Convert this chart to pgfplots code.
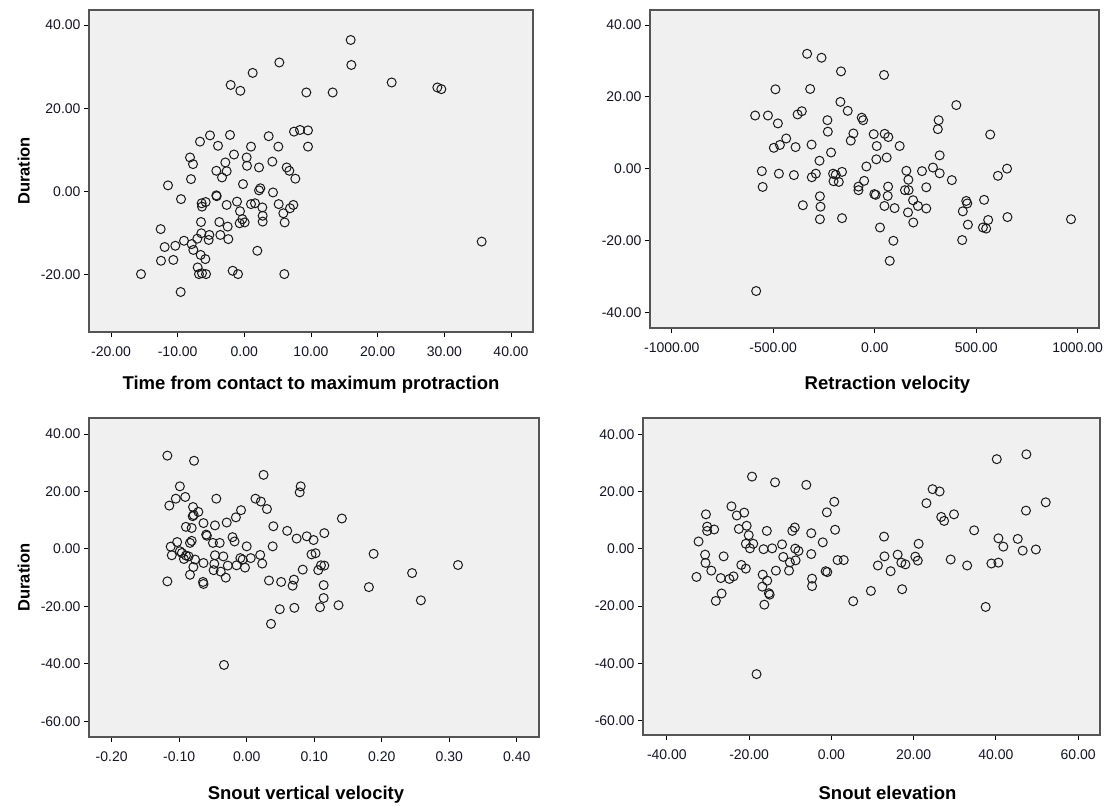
\documentclass[border=0pt]{standalone}
\usepackage{pgfplots}
\pgfplotsset{compat=1.18}
\usepackage{fontspec}
\setmainfont{Liberation Sans}
\definecolor{bgc}{RGB}{240,240,240}
\definecolor{framec}{RGB}{85,85,85}
\definecolor{tickc}{RGB}{20,20,40}
\definecolor{markc}{RGB}{25,25,25}
\pgfplotsset{
  panel/.style={
    scale only axis,
    axis background/.style={fill=bgc},
    axis line style={draw=framec, line width=1.4pt},
    tick align=outside,
    xtick pos=left, ytick pos=left,
    major tick length=5pt,
    every tick/.style={draw=black, line width=0.9pt},
    tick label style={font=\fontsize{14}{16}\selectfont, text=tickc},
    xticklabel style={yshift=-6pt, /pgf/number format/fixed, /pgf/number format/fixed zerofill, /pgf/number format/precision=2, /pgf/number format/1000 sep={}, /pgf/number format/assume math mode=true},
    yticklabel style={/pgf/number format/fixed, /pgf/number format/fixed zerofill, /pgf/number format/precision=2, /pgf/number format/1000 sep={}, /pgf/number format/assume math mode=true},
    scaled ticks=false,
    ylabel style={font=\fontsize{16.5}{19}\selectfont\bfseries},
    xlabel style={font=\fontsize{18.5}{21}\selectfont\bfseries},
    ylabel shift=4pt,
  },
  pts/.style={only marks, mark=o, mark size=4.5pt, mark options={draw=markc, line width=1pt}},
}
\begin{document}
\begin{tikzpicture}
\path[use as bounding box] (0,0) rectangle (1105pt,806pt);
% Panel 1
\begin{axis}[panel, at={(89pt,474pt)}, anchor=south west, width=444pt, height=322pt,
  xmin=-23.3, xmax=43.3, ymin=-33.7, ymax=43.6,
  xtick={-20,-10,0,10,20,30,40}, ytick={-20,0,20,40},
  xlabel shift=13pt,
  xlabel={Time from contact to maximum protraction}, ylabel={Duration}]
\addplot[pts] coordinates {
(15.95,36.4) (16.05,30.4) (5.25,31.0) (1.25,28.5) (-2.05,25.6) (-0.6,24.2) (9.3,23.8) (13.25,23.8)
(22.1,26.2) (28.95,25.0) (29.55,24.6) (35.6,-12.0) (7.45,14.4) (8.35,14.8) (9.55,14.7) (9.55,10.8)
(3.65,13.3) (5.1,10.8) (1.0,10.8) (-2.15,13.6) (-5.15,13.5) (-6.65,12.0) (-3.95,11.0) (-1.55,8.9)
(0.35,8.2) (0.4,6.2) (2.2,5.8) (4.2,7.2) (6.35,5.8) (6.75,5.0) (7.65,3.1) (-2.85,7.0) (-2.65,4.9)
(-4.2,5.0) (-3.35,3.4) (-8.15,8.2) (-7.7,6.6) (-8.0,3.0) (-11.45,1.5) (-9.5,-1.8) (-0.2,1.8)
(2.4,0.8) (2.2,0.3) (4.3,-0.2) (-4.2,-0.9) (-4.15,-1.1) (-6.4,-2.8) (-5.8,-2.5) (-6.35,-3.6)
(-2.65,-3.2) (-1.1,-2.4) (-0.65,-4.7) (1.0,-3.0) (1.6,-2.8) (2.7,-3.8) (2.75,-5.8) (2.75,-7.2)
(5.15,-3.0) (5.85,-5.2) (6.05,-7.4) (6.85,-4.0) (7.35,-3.2) (-6.5,-7.3) (-3.75,-7.3) (-2.5,-8.4)
(-0.3,-6.6) (-0.7,-7.6) (0.05,-7.4) (-12.55,-9.0) (-6.45,-10.0) (-5.25,-10.4) (-5.35,-11.6)
(-3.6,-10.4) (-2.4,-11.4) (-7.05,-11.3) (-9.05,-11.8) (-10.35,-13.0) (-11.95,-13.3) (-7.9,-12.6)
(-7.65,-14.0) (-6.55,-15.2) (-5.85,-16.2) (-12.5,-16.6) (-10.65,-16.4) (-7.0,-18.2) (-6.8,-19.8)
(-6.35,-19.6) (-5.75,-19.8) (-1.75,-19.0) (-0.95,-19.8) (1.95,-14.2) (6.0,-19.8) (-15.5,-19.8)
(-9.55,-24.1)
};
\end{axis}
% Panel 2
\begin{axis}[panel, at={(650pt,478pt)}, anchor=south west, width=449pt, height=318pt,
  xmin=-1107, xmax=1105, ymin=-44.4, ymax=44.2,
  xtick={-1000,-500,0,500,1000}, ytick={-40,-20,0,20,40},
  xlabel shift=17pt, xlabel style={xshift=13pt},
  xlabel={Retraction velocity}]
\addplot[pts] coordinates {
(-333,32.0) (-262,30.9) (-166,27.1) (46,26.1) (-489,22.1) (-318,22.2) (-169,18.6) (-133,16.1)
(402,17.7) (-589,14.8) (-526,14.8) (-477,12.6) (-380,15.1) (-359,16.0) (-233,13.5) (-231,10.3)
(-64,14.2) (-57,13.5) (315,13.5) (311,11.0) (569,9.5) (-105,9.8) (-118,7.8) (-5,9.6) (49,9.7)
(67,8.8) (10,6.3) (123,6.3) (-436,8.4) (-467,6.6) (-497,5.8) (-390,6.0) (-311,6.7) (-215,4.5)
(-272,2.2) (8,2.6) (59,3.1) (320,3.7) (-41,0.6) (-556,-0.7) (-472,-1.4) (-398,-1.8) (-290,-1.4)
(-310,-2.4) (-205,-1.4) (-192,-1.7) (-161,-0.9) (-203,-3.5) (-177,-3.7) (-52,-3.4) (-80,-5.0)
(-80,-6.0) (-2,-7.1) (5,-7.3) (66,-5.0) (64,-7.6) (156,-0.6) (166,-3.1) (149,-6.0) (167,-6.0)
(233,-0.7) (287,0.3) (320,-1.3) (254,-5.2) (380,-3.2) (652,0.0) (607,-2.0) (-552,-5.1) (-270,-7.7)
(-267,-10.6) (-354,-10.2) (-270,-14.1) (-161,-13.8) (48,-10.4) (98,-11.0) (189,-8.8) (213,-10.4)
(254,-11.1) (164,-12.2) (190,-15.0) (26,-16.4) (92,-20.1) (74,-25.7) (434,-11.9) (451,-9.0)
(456,-9.7) (459,-15.6) (431,-19.9) (539,-8.7) (533,-16.4) (549,-16.7) (559,-14.3) (654,-13.5)
(967,-14.1) (-584,-34.1)
};
\end{axis}
% Panel 3
\begin{axis}[panel, at={(89pt,69pt)}, anchor=south west, width=450pt, height=319pt,
  xmin=-0.2336, xmax=0.433, ymin=-65.5, ymax=45.6,
  xtick={-0.2,-0.1,0,0.1,0.2,0.3,0.4}, ytick={-60,-40,-20,0,20,40},
  xlabel shift=18pt, xlabel style={xshift=-8pt},
  xlabel={Snout vertical velocity}, ylabel={Duration}]
\addplot[pts] coordinates {
(-0.1175,32.5) (-0.078,30.7) (0.025,25.8) (-0.099,21.8) (0.080,21.8) (0.0785,19.7) (-0.105,17.5)
(-0.091,18.1) (-0.1146,15.1) (-0.045,17.5) (0.013,17.5) (0.021,16.5) (0.030,13.9) (-0.0795,14.6)
(-0.0716,12.9) (-0.080,11.4) (-0.0785,11.8) (-0.0084,13.5) (-0.016,11.0) (-0.0296,9.2) (-0.064,9.0)
(-0.047,8.2) (-0.090,7.7) (-0.0815,7.3) (0.0395,7.9) (0.060,6.3) (0.141,10.6) (0.115,5.5)
(0.089,4.4) (0.074,3.6) (0.099,3.1) (-0.060,5.0) (-0.059,4.6) (-0.021,4.1) (-0.018,2.6)
(-0.050,2.1) (-0.040,2.1) (-0.103,2.4) (-0.084,2.1) (-0.0815,2.8) (-0.1126,0.8) (0.0,0.9)
(0.0385,0.9) (-0.111,-2.2) (-0.099,-0.8) (-0.096,-1.4) (-0.090,-2.3) (-0.086,-2.6) (-0.093,-3.5)
(-0.0765,-3.7) (-0.079,-6.3) (-0.064,-4.9) (-0.084,-9.0) (-0.047,-2.2) (-0.0346,-2.6)
(-0.048,-5.2) (-0.049,-7.4) (-0.0385,-7.9) (-0.028,-5.8) (-0.031,-10.0) (-0.015,-5.7)
(-0.0094,-3.2) (-0.006,-3.7) (-0.0025,-6.5) (0.006,-3.2) (0.020,-2.1) (0.023,-5.1) (0.096,-1.9)
(0.102,-1.5) (0.083,-7.2) (0.106,-7.4) (0.110,-5.7) (0.115,-5.8) (0.188,-1.7) (0.313,-5.6)
(0.245,-8.4) (-0.1175,-11.3) (-0.0647,-11.5) (-0.064,-12.2) (0.033,-11.0) (0.051,-11.5)
(0.070,-10.7) (0.068,-12.8) (0.114,-12.6) (0.114,-17.1) (0.181,-13.3) (0.258,-17.9) (0.049,-21.0)
(0.0706,-20.5) (0.1086,-20.3) (0.136,-19.6) (0.036,-26.1) (-0.0336,-40.4)
};
\end{axis}
% Panel 4
\begin{axis}[panel, at={(643pt,71pt)}, anchor=south west, width=457pt, height=317pt,
  xmin=-45.8, xmax=65.3, ymin=-65.1, ymax=45.8,
  xtick={-40,-20,0,20,40,60}, ytick={-60,-40,-20,0,20,40},
  xlabel shift=20pt, xlabel style={xshift=16pt},
  xlabel={Snout elevation}]
\addplot[pts] coordinates {
(47.4,33.1) (40.2,31.4) (-19.3,25.3) (-13.7,23.3) (-6.1,22.4) (24.6,20.9) (26.3,20.1) (23.1,16.0)
(0.7,16.5) (52.1,16.3) (47.3,13.4) (-1.1,12.8) (-24.3,14.9) (-23.0,11.7) (-21.2,12.7) (-30.5,12.1)
(26.7,11.2) (27.4,9.8) (29.8,12.1) (-30.2,7.8) (-30.2,6.3) (-28.5,6.8) (-22.5,7.0) (-20.6,8.1)
(-20.1,4.8) (-15.7,6.3) (-8.9,7.5) (-9.5,6.3) (-4.9,5.5) (0.9,6.7) (34.7,6.5) (12.8,4.3)
(-32.3,2.6) (-20.8,1.8) (-19.8,0.2) (-19.0,1.8) (-16.5,-0.1) (-14.4,0.2) (-12.0,1.6) (-8.8,0.1)
(-8.0,-0.7) (-2.1,2.3) (21.2,1.8) (40.6,3.7) (41.8,0.8) (45.3,3.5) (46.5,-0.6) (49.7,-0.2)
(-30.7,-2.0) (-30.6,-4.9) (-26.2,-2.6) (-29.2,-7.6) (-21.9,-5.6) (-20.8,-6.9) (-4.9,-1.8)
(-11.7,-2.8) (-10.1,-4.7) (-8.7,-4.0) (-10.3,-7.6) (-13.5,-7.6) (1.5,-3.9) (3.0,-3.9) (12.9,-2.6)
(16.1,-2.0) (17.0,-4.8) (18.0,-5.4) (11.3,-5.8) (14.4,-7.8) (20.4,-2.7) (21.0,-4.1) (29.0,-3.7)
(33.0,-5.8) (38.9,-5.1) (40.6,-4.8) (-1.4,-7.8) (-1.0,-8.1) (-32.8,-9.8) (-26.9,-10.2)
(-24.8,-10.5) (-23.8,-9.6) (-16.7,-9.0) (-16.8,-13.2) (-15.6,-11.1) (-4.7,-10.4) (-4.7,-13.0)
(-26.7,-15.6) (-28.1,-18.2) (-15.2,-15.5) (-15.0,-16.0) (-16.3,-19.5) (9.6,-14.7) (5.3,-18.3)
(17.2,-14.1) (37.5,-20.3) (-18.2,-43.8)
};
\end{axis}
\end{tikzpicture}
\end{document}
